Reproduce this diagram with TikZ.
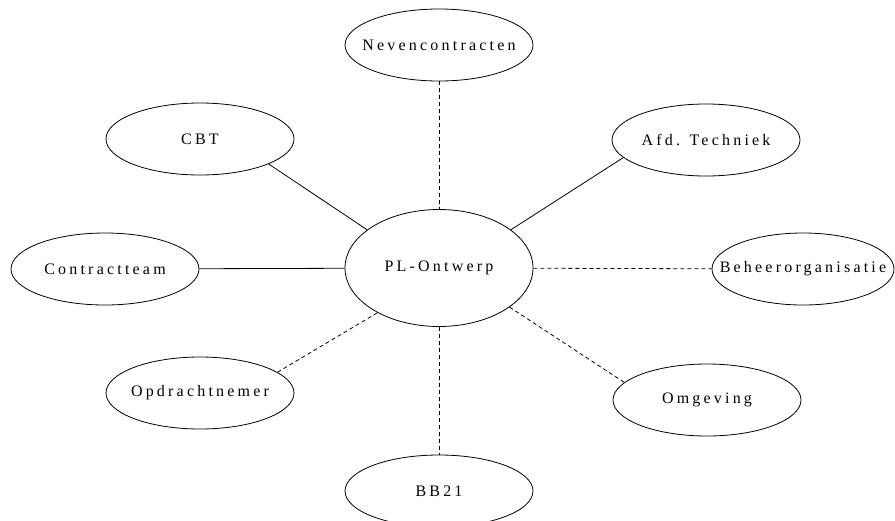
\documentclass[tikz,border=0pt]{standalone}
\usepackage{fontspec}
\setmainfont{Liberation Serif}
\newfontfamily\spacedserif{Liberation Serif}[LetterSpace=20]
\usetikzlibrary{shapes.geometric}

\tikzset{
  oval/.style={ellipse, draw, line width=0.8pt, inner sep=0pt,
    minimum width=188pt, minimum height=72pt,
    font=\spacedserif\fontsize{16}{19}\selectfont},
  hub/.style={oval, minimum height=117pt},
  firm/.style={line width=0.8pt},
  loose/.style={line width=0.8pt, dash pattern=on 4pt off 3pt}
}
\newcommand{\ovaltext}[1]{\makebox[0pt]{#1}}

\begin{document}
\begin{tikzpicture}[x=1pt, y=-1pt]
  \useasboundingbox (0,0) rectangle (895,520);

  % nodes
  \node[hub]  (pl)  at (439,268) {\ovaltext{PL-Ontwerp}};
  \node[oval] (nev) at (439,45)  {\ovaltext{Nevencontracten}};
  \node[oval] (cbt) at (200,139) {\ovaltext{CBT}};
  \node[oval] (afd) at (706,140) {\ovaltext{Afd. Techniek}};
  \node[oval] (con) at (105,269) {\ovaltext{Contractteam}};
  \node[oval, minimum width=182pt] (beh) at (803,269) {\ovaltext{Beheerorganisatie}};
  \node[oval] (opd) at (200,393) {\ovaltext{Opdrachtnemer}};
  \node[oval] (omg) at (707,400) {\ovaltext{Omgeving}};
  \node[oval] (bb)  at (439,491) {\ovaltext{BB21}};

  % solid links
  \draw[firm] (cbt.-20) -- (pl.152);
  \draw[firm] (afd.192) -- (pl.28);
  \draw[firm] (con) -- (pl);

  % dashed links
  \draw[loose] (nev) -- (pl);
  \draw[loose] (pl) -- (beh);
  \draw[loose] (opd.15) -- (pl.216);
  \draw[loose] (pl.331) -- (omg.168);
  \draw[loose] (pl) -- (bb);
\end{tikzpicture}
\end{document}
